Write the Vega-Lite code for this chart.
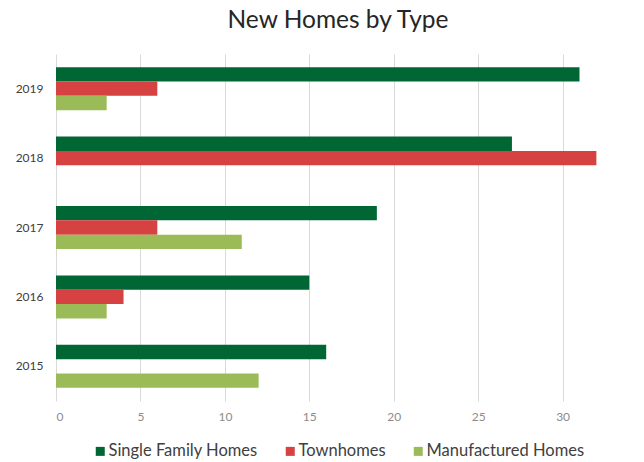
{
  "$schema": "https://vega.github.io/schema/vega-lite/v6.json",
  "autosize": "none",
  "width": 588,
  "height": 347,
  "padding": {"left": 56, "top": 54, "right": 0, "bottom": 61},
  "background": "white",
  "config": {"view": {"stroke": null}},
  "title": {
    "text": "New Homes by Type",
    "font": "Lato",
    "fontSize": 24.5,
    "fontWeight": "normal",
    "color": "#262626",
    "anchor": "middle",
    "baseline": "alphabetic",
    "offset": 2,
    "dx": -12
  },
  "data": {
    "values": [
      {"year": "2019", "type": "Single Family Homes", "value": 31},
      {"year": "2019", "type": "Townhomes", "value": 6},
      {"year": "2019", "type": "Manufactured Homes", "value": 3},
      {"year": "2018", "type": "Single Family Homes", "value": 27},
      {"year": "2018", "type": "Townhomes", "value": 32},
      {"year": "2018", "type": "Manufactured Homes", "value": 0},
      {"year": "2017", "type": "Single Family Homes", "value": 19},
      {"year": "2017", "type": "Townhomes", "value": 6},
      {"year": "2017", "type": "Manufactured Homes", "value": 11},
      {"year": "2016", "type": "Single Family Homes", "value": 15},
      {"year": "2016", "type": "Townhomes", "value": 4},
      {"year": "2016", "type": "Manufactured Homes", "value": 3},
      {"year": "2015", "type": "Single Family Homes", "value": 16},
      {"year": "2015", "type": "Townhomes", "value": 0},
      {"year": "2015", "type": "Manufactured Homes", "value": 12}
    ]
  },
  "mark": {"type": "bar"},
  "encoding": {
    "x": {
      "field": "value",
      "type": "quantitative",
      "scale": {"domain": [0, 34.82], "nice": false, "zero": true},
      "axis": {
        "title": null,
        "values": [0, 5, 10, 15, 20, 25, 30],
        "grid": true,
        "gridColor": "#d9d9d9",
        "domain": false,
        "ticks": false,
        "labelColor": "#8c8c8c",
        "labelFont": "Lato",
        "labelFontSize": 12,
        "labelPadding": 10
      }
    },
    "y": {
      "field": "year",
      "type": "nominal",
      "sort": "descending",
      "scale": {"paddingInner": 0.38, "paddingOuter": 0.19},
      "axis": {
        "title": null,
        "domain": false,
        "ticks": false,
        "grid": false,
        "labelColor": "#404040",
        "labelFont": "Lato",
        "labelFontSize": 12,
        "labelPadding": 13
      }
    },
    "yOffset": {
      "field": "type",
      "type": "nominal",
      "sort": ["Single Family Homes", "Townhomes", "Manufactured Homes"],
      "scale": {"paddingInner": 0, "paddingOuter": 0}
    },
    "color": {
      "field": "type",
      "type": "nominal",
      "scale": {
        "domain": ["Single Family Homes", "Townhomes", "Manufactured Homes"],
        "range": ["#006633", "#d64141", "#9bbb59"]
      },
      "legend": {
        "title": null,
        "orient": "none",
        "direction": "horizontal",
        "legendX": 36,
        "legendY": 389,
        "symbolType": "square",
        "symbolSize": 81,
        "symbolStrokeWidth": 0,
        "labelFont": "Lato",
        "labelFontSize": 16.5,
        "labelColor": "#404040",
        "labelOffset": 0,
        "columnPadding": 24
      }
    }
  }
}
